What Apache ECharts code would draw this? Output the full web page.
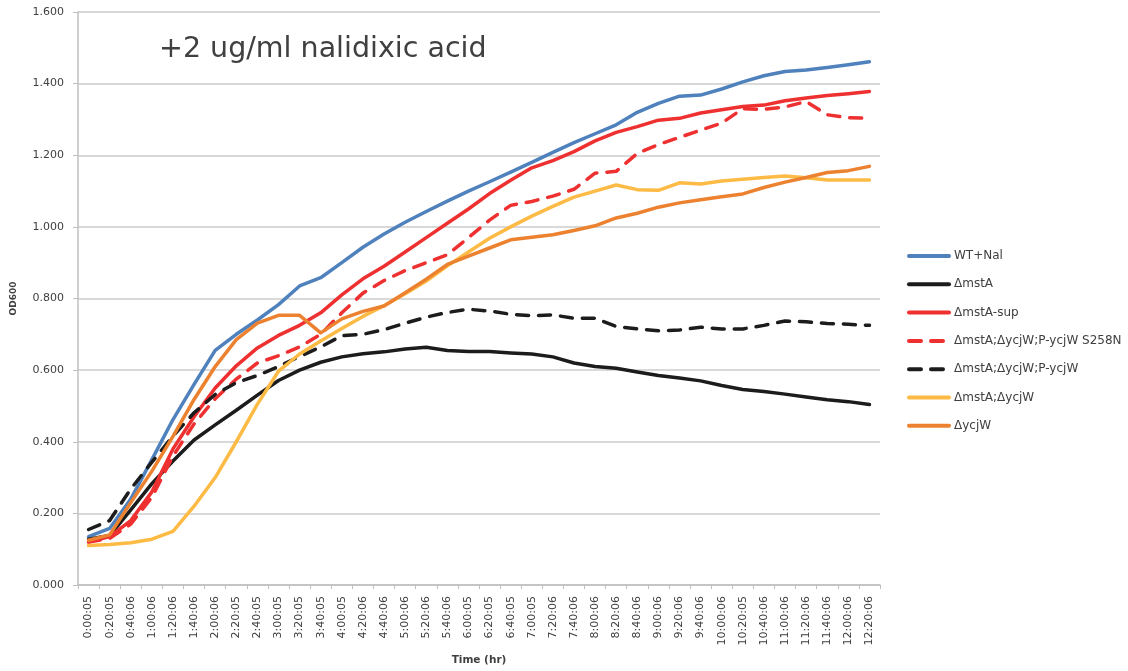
<!DOCTYPE html>
<html>
<head>
<meta charset="utf-8">
<script src="https://cdn.jsdelivr.net/npm/echarts@6/dist/echarts.min.js"></script>
<style>html,body{margin:0;padding:0;background:#fff}#chart{width:1128px;height:671px}</style>
</head>
<body>
<div id="chart"></div>
<script>
var categories = ['0:00:05','0:20:05','0:40:06','1:00:06','1:20:06','1:40:06','2:00:06','2:20:05','2:40:05','3:00:05','3:20:05','3:40:05','4:00:05','4:20:06','4:40:06','5:00:06','5:20:06','5:40:06','6:00:05','6:20:05','6:40:05','7:00:05','7:20:06','7:40:06','8:00:06','8:20:06','8:40:06','9:00:06','9:20:06','9:40:06','10:00:06','10:20:05','10:40:06','11:00:06','11:20:06','11:40:06','12:00:06','12:20:06'];

var wtNal = [0.135,0.158,0.24,0.35,0.462,0.56,0.655,0.70,0.74,0.783,0.835,0.858,0.90,0.943,0.98,1.013,1.043,1.072,1.10,1.126,1.153,1.18,1.208,1.235,1.26,1.285,1.32,1.345,1.365,1.368,1.385,1.405,1.422,1.434,1.438,1.445,1.453,1.461];
var mstA = [0.128,0.138,0.21,0.283,0.346,0.405,0.447,0.488,0.53,0.571,0.60,0.622,0.637,0.646,0.651,0.659,0.664,0.655,0.652,0.652,0.648,0.645,0.637,0.62,0.61,0.605,0.595,0.585,0.578,0.57,0.557,0.546,0.54,0.533,0.525,0.517,0.512,0.504];
var mstASup = [0.12,0.135,0.18,0.26,0.38,0.47,0.55,0.612,0.662,0.697,0.725,0.76,0.81,0.855,0.89,0.93,0.97,1.01,1.05,1.093,1.13,1.165,1.185,1.21,1.24,1.264,1.28,1.298,1.303,1.318,1.327,1.336,1.34,1.352,1.36,1.367,1.372,1.378];
var s258n = [0.12,0.13,0.17,0.245,0.36,0.45,0.52,0.575,0.62,0.64,0.665,0.70,0.76,0.815,0.85,0.878,0.90,0.922,0.97,1.019,1.06,1.071,1.086,1.105,1.15,1.155,1.205,1.23,1.25,1.27,1.29,1.33,1.328,1.335,1.35,1.313,1.305,1.303];
var pYcjW = [0.155,0.18,0.268,0.343,0.416,0.481,0.532,0.565,0.585,0.61,0.638,0.665,0.696,0.70,0.713,0.731,0.748,0.761,0.77,0.765,0.756,0.752,0.754,0.745,0.745,0.722,0.715,0.71,0.712,0.72,0.715,0.715,0.725,0.737,0.735,0.73,0.728,0.725];
var mstAycjW = [0.11,0.113,0.118,0.128,0.15,0.22,0.30,0.40,0.505,0.597,0.645,0.681,0.716,0.75,0.78,0.813,0.849,0.891,0.93,0.968,1.0,1.03,1.057,1.083,1.10,1.117,1.104,1.102,1.123,1.12,1.128,1.133,1.138,1.142,1.137,1.131,1.131,1.131];
var ycjW = [0.125,0.14,0.23,0.318,0.415,0.518,0.61,0.685,0.731,0.753,0.753,0.704,0.743,0.764,0.779,0.816,0.854,0.895,0.918,0.941,0.964,0.971,0.978,0.99,1.003,1.025,1.038,1.055,1.067,1.076,1.084,1.092,1.11,1.125,1.138,1.152,1.157,1.169];

var seriesNames = ['WT+Nal','ΔmstA','ΔmstA-sup','ΔmstA;ΔycjW;P-ycjW S258N','ΔmstA;ΔycjW;P-ycjW','ΔmstA;ΔycjW','ΔycjW'];
var seriesData = [wtNal, mstA, mstASup, s258n, pYcjW, mstAycjW, ycjW];
var seriesColors = ['#4F81BD','#1c1c1c','#EE3030','#EE3030','#1c1c1c','#FDBA45','#EC8230'];
var seriesDashed = [false,false,false,true,true,false,false];

var FONT = 'DejaVu Sans';
var chart = echarts.init(document.getElementById('chart'), null, {renderer:'canvas'});

var series = seriesNames.map(function(name, k){
  return {
    name: name,
    type: 'line',
    data: seriesData[k],
    symbol: 'none',
    smooth: false,
    lineStyle: {
      color: seriesColors[k],
      width: 3.5,
      type: seriesDashed[k] ? [12, 10] : 'solid',
      cap: 'round',
      join: 'round'
    },
    itemStyle: {color: seriesColors[k]}
  };
});

chart.setOption({
  animation: false,
  backgroundColor: '#ffffff',
  title: {
    text: '+2 ug/ml nalidixic acid',
    left: 154,
    top: 30,
    textStyle: {fontFamily: FONT, fontSize: 28.5, fontWeight: 'normal', color: '#404040'}
  },
  legend: {
    orient: 'vertical',
    left: 907,
    top: 250,
    padding: 0,
    itemWidth: 40,
    itemHeight: 14,
    itemGap: 16.3,
    itemStyle: {opacity: 0},
    lineStyle: {width: 4, cap: 'round'},
    textStyle: {fontFamily: FONT, fontSize: 12, color: '#404040'},
    data: seriesNames
  },
  grid: {left: 78, right: 248, top: 12, bottom: 85, containLabel: false},
  xAxis: {
    type: 'category',
    data: categories,
    boundaryGap: true,
    name: 'Time (hr)',
    nameLocation: 'middle',
    nameGap: 70,
    nameTextStyle: {fontFamily: FONT, fontSize: 10.5, fontWeight: 'bold', color: '#404040', verticalAlign: 'top'},
    axisLine: {show: true, lineStyle: {color: '#bfbfbf', width: 1.5}},
    axisTick: {show: true, alignWithLabel: false, length: 4, lineStyle: {color: '#bfbfbf', width: 1}},
    axisLabel: {interval: 0, rotate: 90, margin: 11, fontFamily: FONT, fontSize: 11, color: '#404040'},
    splitLine: {show: false}
  },
  yAxis: {
    type: 'value',
    min: 0,
    max: 1.6,
    interval: 0.2,
    name: 'OD600',
    nameLocation: 'middle',
    nameGap: 60,
    nameRotate: 90,
    nameTextStyle: {fontFamily: FONT, fontSize: 9, fontWeight: 'bold', color: '#404040'},
    axisLine: {show: true, lineStyle: {color: '#bfbfbf', width: 1.5}},
    axisTick: {show: true, length: 5, lineStyle: {color: '#bfbfbf', width: 1}},
    axisLabel: {margin: 14, fontFamily: FONT, fontSize: 11, color: '#404040', formatter: function(v){return v.toFixed(3);}},
    splitLine: {show: true, lineStyle: {color: '#cccccc', width: 1.5}}
  },
  series: series
});
</script>
</body>
</html>
